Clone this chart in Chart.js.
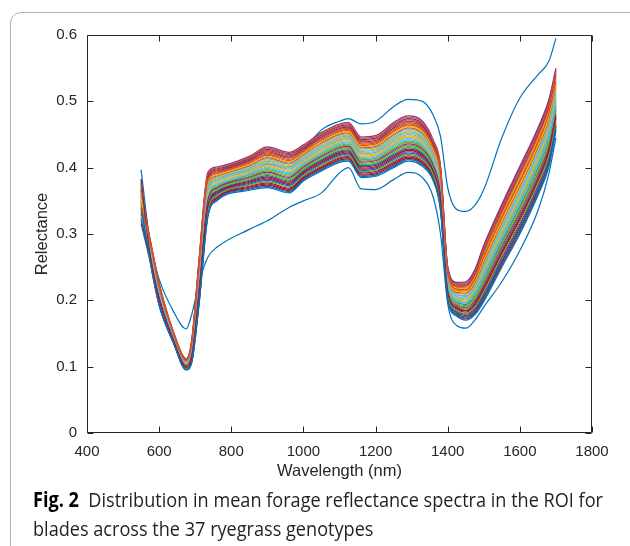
<!DOCTYPE html>
<html>
<head>
<meta charset="utf-8">
<script src="https://cdn.jsdelivr.net/npm/chart.js@4.4.1/dist/chart.umd.min.js"></script>
<style>
  html, body { margin: 0; padding: 0; background: #fff; width: 630px; height: 546px; overflow: hidden; }
  #frame { position: absolute; left: 10px; top: 12px; width: 640px; height: 580px; border: 1px solid #b3b3b3; border-radius: 11px; box-sizing: border-box; }
  #wrap { position: absolute; left: 0; top: 0; width: 630px; height: 490px; }
  .cap { position: absolute; left: 33px; white-space: nowrap; font-family: "Open Sans", "Noto Sans", sans-serif; font-size: 20.5px; line-height: 20px; color: #231f20; transform-origin: 0 50%; }
  .cap b { color: #000; font-weight: 700; }
</style>
</head>
<body>
<div id="frame"></div>
<div id="wrap"><canvas id="c" width="630" height="490"></canvas></div>
<div class="cap" id="l1" style="top:489px"><b>Fig. 2</b>&nbsp; Distribution in mean forage reflectance spectra in the ROI for</div>
<div class="cap" id="l2" style="top:518px">blades across the 37 ryegrass genotypes</div>
<script>
// Wavelength grid (nm)
const wavelengths = [550,575,600,640,675,690,710,735,760,850,900,960,1000,1050,1100,1125,1160,1200,1250,1290,1330,1360,1380,1400,1425,1450,1475,1500,1550,1600,1650,1680,1700];

// Mean reflectance spectra, one per genotype (37)
const s00 = [.397,.285,.215,.14,.098,.115,.22,.35,.37,.39,.405,.40,.425,.457,.47,.474,.466,.47,.492,.503,.50,.479,.447,.37,.337,.334,.343,.367,.445,.505,.54,.56,.595];
const s01 = [.317,.285,.219,.1485,.1085,.132,.244,.379,.3905,.4065,.4186,.4106,.4232,.4409,.4539,.4559,.4336,.4356,.454,.464,.456,.4286,.389,.244,.220,.219,.236,.271,.331,.387,.445,.487,.536];
const s02 = [.371,.279,.213,.1455,.1055,.126,.232,.367,.3815,.3975,.4078,.3998,.4136,.4307,.4437,.4457,.4228,.4248,.442,.452,.444,.4178,.377,.226,.202,.199,.212,.241,.298,.351,.409,.451,.503];
const s03 = [.359,.292,.226,.152,.112,.139,.258,.393,.401,.417,.4312,.4232,.4344,.4528,.4658,.4678,.4462,.4482,.468,.478,.47,.4412,.403,.251,.227,.228,.246,.283,.345,.402,.46,.502,.55];
const s04 = [.355,.273,.207,.1425,.1025,.12,.22,.355,.3725,.3885,.397,.389,.404,.4205,.4335,.4355,.412,.414,.43,.44,.432,.407,.365,.224,.2,.197,.21,.238,.295,.348,.406,.448,.5];
const s05 = [.379,.282,.216,.147,.107,.129,.238,.373,.386,.402,.4132,.4052,.4184,.4358,.4488,.4508,.4282,.4302,.448,.458,.45,.4232,.383,.233,.209,.207,.222,.253,.312,.366,.424,.466,.517];
const s06 = [.349,.262,.196,.137,.097,.109,.198,.333,.356,.372,.3772,.3692,.3864,.4018,.4148,.4168,.3922,.3942,.408,.418,.41,.3872,.343,.208,.184,.179,.188,.211,.264,.315,.373,.415,.469];
const s07 = [.36,.285,.232,.183,.157,.178,.225,.265,.28,.307,.32,.34,.35,.362,.392,.40,.368,.367,.382,.393,.385,.355,.30,.195,.162,.158,.17,.19,.228,.275,.335,.39,.445];
const s08 = [.351,.289,.223,.1505,.1105,.136,.252,.387,.3965,.4125,.4258,.4178,.4296,.4477,.4607,.4627,.4408,.4428,.462,.472,.464,.4358,.397,.245,.221,.221,.238,.273,.334,.39,.448,.49,.539];
const s09 = [.319,.277,.211,.1445,.1045,.124,.228,.363,.3785,.3945,.4042,.3962,.4104,.4273,.4403,.4423,.4192,.4212,.438,.448,.44,.4142,.373,.235,.211,.209,.224,.256,.314,.369,.427,.469,.519];
const s10 = [.377,.29,.224,.151,.111,.137,.254,.389,.398,.414,.4276,.4196,.4312,.4494,.4624,.4644,.4426,.4446,.464,.474,.466,.4376,.399,.25,.226,.226,.244,.281,.342,.399,.457,.499,.547];
const s11 = [.347,.27,.204,.141,.101,.117,.214,.349,.368,.384,.3916,.3836,.3992,.4154,.4284,.4304,.4066,.4086,.424,.434,.426,.4016,.359,.215,.191,.187,.198,.223,.278,.33,.388,.43,.483];
const s12 = [.345,.278,.212,.145,.105,.125,.23,.365,.38,.396,.406,.398,.412,.429,.442,.444,.421,.423,.44,.45,.442,.416,.375,.23,.206,.204,.218,.248,.306,.36,.418,.46,.511];
const s13 = [.367,.26,.194,.136,.096,.107,.194,.329,.353,.369,.3736,.3656,.3832,.3984,.4114,.4134,.3886,.3906,.404,.414,.406,.3836,.339,.202,.178,.172,.18,.201,.253,.303,.361,.403,.458];
const s14 = [.315,.258,.192,.135,.095,.105,.19,.325,.35,.366,.37,.362,.38,.395,.408,.41,.385,.387,.4,.41,.402,.38,.335,.203,.179,.173,.182,.203,.256,.306,.364,.406,.461];
const s15 = [.335,.283,.217,.1475,.1075,.13,.24,.375,.3875,.4035,.415,.407,.42,.4375,.4505,.4525,.43,.432,.45,.46,.452,.425,.385,.236,.212,.211,.226,.258,.317,.372,.43,.472,.522];
const s16 = [.361,.284,.218,.148,.108,.131,.242,.377,.389,.405,.4168,.4088,.4216,.4392,.4522,.4542,.4318,.4338,.452,.462,.454,.4268,.387,.242,.218,.218,.234,.268,.328,.384,.442,.484,.533];
const s17 = [.357,.265,.199,.1385,.0985,.112,.204,.339,.3605,.3765,.3826,.3746,.3912,.4069,.4199,.4219,.3976,.3996,.414,.424,.416,.3926,.349,.217,.193,.189,.2,.226,.281,.333,.391,.433,.486];
const s18 = [.329,.272,.206,.142,.102,.119,.218,.353,.371,.387,.3952,.3872,.4024,.4188,.4318,.4338,.4102,.4122,.428,.438,.43,.4052,.363,.218,.194,.19,.202,.228,.284,.336,.394,.436,.489];
const s19 = [.337,.275,.209,.1435,.1035,.122,.224,.359,.3755,.3915,.4006,.3926,.4072,.4239,.4369,.4389,.4156,.4176,.434,.444,.436,.4106,.369,.227,.203,.201,.214,.243,.3,.354,.412,.454,.505];
const s20 = [.339,.267,.201,.1395,.0995,.114,.208,.343,.3635,.3795,.3862,.3782,.3944,.4103,.4233,.4253,.4012,.4032,.418,.428,.42,.3962,.353,.211,.187,.182,.192,.216,.27,.321,.379,.421,.475];
const s21 = [.365,.268,.202,.14,.1,.115,.21,.345,.365,.381,.388,.38,.396,.412,.425,.427,.403,.405,.42,.43,.422,.398,.355,.221,.197,.194,.206,.233,.289,.342,.4,.442,.494];
const s22 = [.369,.287,.221,.1495,.1095,.134,.248,.383,.3935,.4095,.4222,.4142,.4264,.4443,.4573,.4593,.4372,.4392,.458,.468,.46,.4322,.393,.239,.215,.214,.23,.263,.323,.378,.436,.478,.528];
const s23 = [.353,.281,.215,.1465,.1065,.128,.236,.371,.3845,.4005,.4114,.4034,.4168,.4341,.4471,.4491,.4264,.4284,.446,.456,.448,.4214,.381,.238,.214,.213,.228,.261,.32,.375,.433,.475,.525];
const s24 = [.325,.288,.222,.15,.11,.135,.25,.385,.395,.411,.424,.416,.428,.446,.459,.461,.439,.441,.46,.47,.462,.434,.395,.247,.223,.223,.24,.276,.337,.393,.451,.493,.542];
const s25 = [.321,.269,.203,.1405,.1005,.116,.212,.347,.3665,.3825,.3898,.3818,.3976,.4137,.4267,.4287,.4048,.4068,.422,.432,.424,.3998,.357,.22,.196,.192,.204,.231,.286,.339,.397,.439,.491];
const s26 = [.381,.274,.208,.143,.103,.121,.222,.357,.374,.39,.3988,.3908,.4056,.4222,.4352,.4372,.4138,.4158,.432,.442,.434,.4088,.367,.223,.199,.196,.208,.236,.292,.345,.403,.445,.497];
const s27 = [.323,.261,.195,.1365,.0965,.108,.196,.331,.3545,.3705,.3754,.3674,.3848,.4001,.4131,.4151,.3904,.3924,.406,.416,.408,.3854,.341,.205,.181,.175,.184,.206,.258,.309,.367,.409,.463];
const s28 = [.331,.264,.198,.138,.098,.111,.202,.337,.359,.375,.3808,.3728,.3896,.4052,.4182,.4202,.3958,.3978,.412,.422,.414,.3908,.347,.206,.182,.177,.186,.208,.261,.312,.37,.412,.466];
const s29 = [.333,.291,.225,.1515,.1115,.138,.256,.391,.3995,.4155,.4294,.4214,.4328,.4511,.4641,.4661,.4444,.4464,.466,.476,.468,.4394,.401,.248,.224,.224,.242,.278,.34,.396,.454,.496,.545];
const s30 = [.363,.276,.21,.144,.104,.123,.226,.361,.377,.393,.4024,.3944,.4088,.4256,.4386,.4406,.4174,.4194,.436,.446,.438,.4124,.371,.229,.205,.202,.216,.246,.303,.357,.415,.457,.508];
const s31 = [.373,.271,.205,.1415,.1015,.118,.216,.351,.3695,.3855,.3934,.3854,.4008,.4171,.4301,.4321,.4084,.4104,.426,.436,.428,.4034,.361,.214,.19,.185,.196,.221,.275,.327,.385,.427,.48];
const s32 = [.375,.263,.197,.1375,.0975,.11,.2,.335,.3575,.3735,.379,.371,.388,.4035,.4165,.4185,.394,.396,.41,.42,.412,.389,.345,.209,.185,.18,.19,.213,.267,.318,.376,.418,.472];
const s33 = [.327,.28,.214,.146,.106,.127,.234,.369,.383,.399,.4096,.4016,.4152,.4324,.4454,.4474,.4246,.4266,.444,.454,.446,.4196,.379,.232,.208,.206,.22,.251,.309,.363,.421,.463,.514];
const s34 = [.383,.266,.2,.139,.099,.113,.206,.341,.362,.378,.3844,.3764,.3928,.4086,.4216,.4236,.3994,.4014,.416,.426,.418,.3944,.351,.212,.188,.184,.194,.218,.272,.324,.382,.424,.477];
const s35 = [.341,.259,.193,.1355,.0955,.106,.192,.327,.3515,.3675,.3718,.3638,.3816,.3967,.4097,.4117,.3868,.3888,.402,.412,.404,.3818,.337,.2,.176,.17,.178,.198,.25,.3,.358,.4,.455];
const s36 = [.343,.286,.22,.149,.109,.133,.246,.381,.392,.408,.4204,.4124,.4248,.4426,.4556,.4576,.4354,.4374,.456,.466,.458,.4304,.391,.241,.217,.216,.232,.266,.326,.381,.439,.481,.531];

const spectra = [s00,s01,s02,s03,s04,s05,s06,s07,s08,s09,s10,s11,s12,s13,s14,s15,s16,s17,s18,s19,s20,s21,s22,s23,s24,s25,s26,s27,s28,s29,s30,s31,s32,s33,s34,s35,s36];

// Axis ticks
const xTicks = [400,600,800,1000,1200,1400,1600,1800];
const yTicks = [0,0.1,0.2,0.3,0.4,0.5,0.6];

const lineColors = ['#0072BD','#D95319','#EDB120','#7E2F8E','#77AC30','#4DBEEE','#A2142F'];
const INK = '#262626';
const FONT = 'Liberation Sans, Arial, Helvetica, sans-serif';

const datasets = spectra.map((s, i) => ({
  label: 'G' + (i + 1),
  data: wavelengths.map((w, k) => ({ x: w, y: s[k] })),
  borderColor: lineColors[i % 7],
  borderWidth: 1.2,
  pointRadius: 0,
  fill: false,
  cubicInterpolationMode: 'monotone',
  order: spectra.length - i
}));

const boxPlugin = {
  id: 'matlabBox',
  afterDraw(chart) {
    const { ctx, chartArea: a, scales } = chart;
    const L = Math.round(a.left) + 0.5, R = Math.round(a.right) - 0.5;
    const T = Math.round(a.top) + 0.5, B = Math.round(a.bottom) - 0.5;
    const tl = 6;
    ctx.save();
    ctx.strokeStyle = INK;
    ctx.lineWidth = 1;
    ctx.beginPath();
    ctx.rect(L, T, R - L, B - T);
    scales.x.ticks.forEach(t => {
      const px = Math.round(scales.x.getPixelForValue(t.value)) + 0.5;
      ctx.moveTo(px, B); ctx.lineTo(px, B - tl);
      ctx.moveTo(px, T); ctx.lineTo(px, T + tl);
    });
    scales.y.ticks.forEach(t => {
      const py = Math.round(scales.y.getPixelForValue(t.value)) + 0.5;
      ctx.moveTo(L, py); ctx.lineTo(L + tl, py);
      ctx.moveTo(R, py); ctx.lineTo(R - tl, py);
    });
    ctx.stroke();
    ctx.restore();
  }
};

new Chart(document.getElementById('c'), {
  type: 'line',
  data: { datasets },
  options: {
    responsive: false,
    animation: false,
    devicePixelRatio: 1,
    layout: { padding: { left: 27, right: 38, top: 35, bottom: 0 } },
    plugins: { legend: { display: false }, tooltip: { enabled: false } },
    scales: {
      x: {
        type: 'linear', min: 400, max: 1800,
        afterBuildTicks: s => { s.ticks = xTicks.map(v => ({ value: v })); },
        afterFit: s => { s.height = 57; },
        grid: { display: false, drawTicks: false },
        border: { display: false },
        ticks: { color: INK, font: { family: FONT, size: 15 }, padding: 10, maxRotation: 0, callback: v => String(v) },
        title: { display: true, text: 'Wavelength (nm)', color: INK, font: { family: FONT, size: 16.5 }, padding: { top: 0, bottom: 9 } }
      },
      y: {
        type: 'linear', min: 0, max: 0.6,
        afterBuildTicks: s => { s.ticks = yTicks.map(v => ({ value: v })); },
        afterFit: s => { s.width = 60; },
        grid: { display: false, drawTicks: false },
        border: { display: false },
        ticks: { color: INK, font: { family: FONT, size: 15 }, padding: 10, callback: v => String(Math.round(v * 10) / 10) },
        title: { display: true, text: 'Relectance', color: INK, font: { family: FONT, size: 16.5 }, padding: { top: 6, bottom: 0 } }
      }
    }
  },
  plugins: [boxPlugin]
});

// fit caption lines to the reference width
(function () {
  const l1 = document.getElementById('l1'), l2 = document.getElementById('l2');
  const w = l1.getBoundingClientRect().width;
  const k = 570 / w;
  l1.style.transform = 'scaleX(' + k + ')';
  l2.style.transform = 'scaleX(' + k + ')';
})();
</script>
</body>
</html>
